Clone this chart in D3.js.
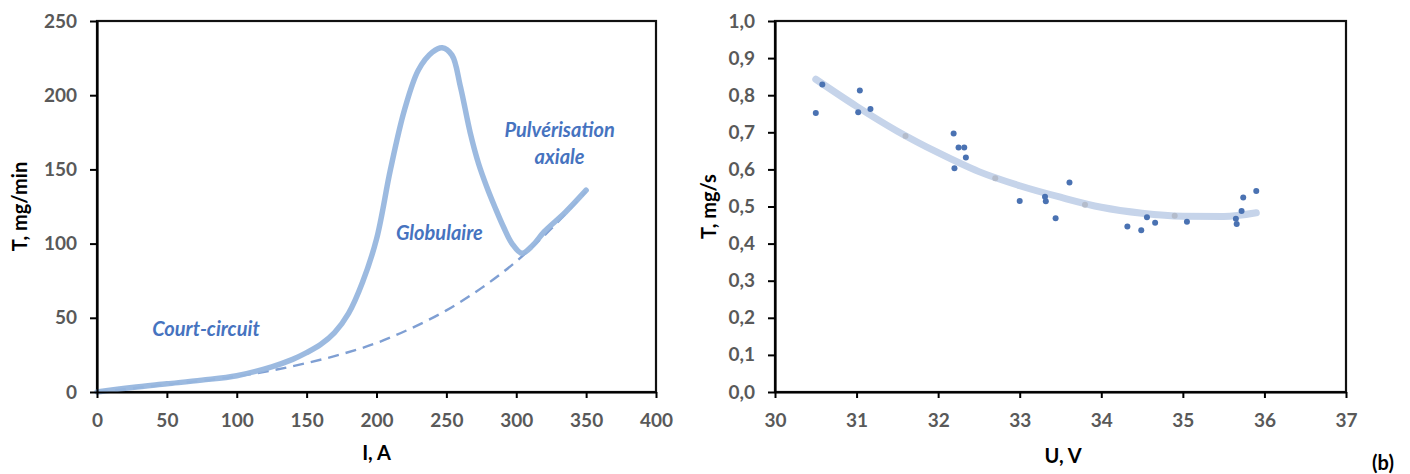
<!DOCTYPE html>
<html>
<head>
<meta charset="utf-8">
<script src="https://cdn.jsdelivr.net/npm/d3@7/dist/d3.min.js"></script>
<style>
  html, body { margin: 0; padding: 0; background: #fff; }
  svg { display: block; }
  .tick text { font-family: Lato, "Open Sans", sans-serif; font-weight: 700; font-size: 19px; fill: #595959; }
  .title { font-family: Lato, "Open Sans", sans-serif; font-weight: 700; font-size: 20px; fill: #000; }
  .region { font-family: Lato, "Open Sans", sans-serif; font-weight: 700; font-style: italic; font-size: 20px; fill: #4673bf; }
</style>
</head>
<body>
<svg id="chart" width="1410" height="474"></svg>
<script>
// ---------- Data (left chart: T vs I) ----------
const solidI = [0, 25, 50, 75, 100, 125, 140, 150, 160, 170, 180, 190, 200, 210, 220, 230, 240, 247, 254, 260, 267, 273, 279, 285, 291, 297, 304, 312, 320, 335, 350];
const solidT = [0, 3, 5.5, 8, 11, 17, 22, 26.5, 32, 40, 53, 74, 103, 150, 190, 217, 229, 232, 227, 206, 175, 154, 138, 124, 111, 100, 93.5, 99, 108, 121, 136];
const dashI = [0, 25, 50, 75, 100, 125, 150, 175, 200, 225, 250, 275, 300, 325, 350];
const dashT = [0, 2.5, 5, 7.5, 10.5, 14.5, 19.5, 25.5, 33, 43, 55, 70, 88, 110, 135];
const leftXTicks = [0, 50, 100, 150, 200, 250, 300, 350, 400];
const leftYTicks = [0, 50, 100, 150, 200, 250];
const regionLabels = ["Court-circuit", "Globulaire", "Pulvérisation", "axiale"];
const regionI = [78, 245, 331, 331];
const regionT = [43, 108, 177, 159];

// ---------- Data (right chart: T vs U) ----------
const scatterU = [30.50, 30.58, 31.04, 31.02, 31.17, 32.19, 32.25, 32.32, 32.34, 32.20, 33.00, 33.31, 33.32, 33.61, 33.44, 34.32, 34.49, 34.56, 34.66, 35.05, 35.65, 35.66, 35.72, 35.74, 35.90];
const scatterT = [0.752, 0.829, 0.813, 0.754, 0.763, 0.697, 0.659, 0.659, 0.632, 0.603, 0.515, 0.526, 0.514, 0.565, 0.468, 0.446, 0.436, 0.471, 0.456, 0.459, 0.467, 0.453, 0.488, 0.524, 0.542];
const meanU = [31.6, 32.7, 33.8, 34.9];
const meanT = [0.690, 0.576, 0.505, 0.475];
const trendU = [30.5, 31.0, 31.5, 32.0, 32.5, 33.0, 33.5, 34.0, 34.5, 35.0, 35.5, 35.9];
const trendT = [0.843, 0.770, 0.703, 0.645, 0.594, 0.556, 0.525, 0.498, 0.482, 0.474, 0.473, 0.483];
const rightXTicks = [30, 31, 32, 33, 34, 35, 36, 37];
const rightYTicks = [0, 0.1, 0.2, 0.3, 0.4, 0.5, 0.6, 0.7, 0.8, 0.9, 1.0];

const svg = d3.select("#chart");

function styleAxis(g) {
  g.select(".domain").attr("stroke", "#000").attr("stroke-width", 2.2);
  g.selectAll(".tick line").attr("stroke", "#000").attr("stroke-width", 2);
}

function frame(x0, x1, y0, y1) {
  svg.append("rect")
    .attr("x", x0).attr("y", y0)
    .attr("width", x1 - x0).attr("height", y1 - y0)
    .attr("fill", "none").attr("stroke", "#111").attr("stroke-width", 2.2);
}

// ---------- Left chart ----------
const L = { x0: 97, x1: 656, y0: 21, y1: 392 };
const xL = d3.scaleLinear().domain([0, 400]).range([L.x0, L.x1]);
const yL = d3.scaleLinear().domain([0, 250]).range([L.y1, L.y0]);

frame(L.x0, L.x1, L.y0, L.y1);

svg.append("path")
  .attr("d", d3.line().curve(d3.curveMonotoneX)(dashI.map((v, i) => [xL(v), yL(dashT[i])])))
  .attr("fill", "none").attr("stroke", "#7f9fd3").attr("stroke-width", 2.4)
  .attr("stroke-dasharray", "11,7");

svg.append("path")
  .attr("d", d3.line().curve(d3.curveCatmullRom.alpha(0.5))(solidI.map((v, i) => [xL(v), yL(solidT[i])])))
  .attr("fill", "none").attr("stroke", "#97b6de").attr("stroke-width", 5.5)
  .attr("stroke-linecap", "round").attr("stroke-linejoin", "round")
  .attr("opacity", 0.95);

svg.append("g").attr("transform", `translate(0,${L.y1})`)
  .call(d3.axisBottom(xL).tickValues(leftXTicks).tickSize(6).tickSizeOuter(0).tickPadding(16).tickFormat(d3.format("d")))
  .call(styleAxis);
svg.append("g").attr("transform", `translate(${L.x0},0)`)
  .call(d3.axisLeft(yL).tickValues(leftYTicks).tickSize(7).tickSizeOuter(0).tickPadding(13).tickFormat(d3.format("d")))
  .call(styleAxis);

regionLabels.forEach((t, i) => {
  svg.append("text").attr("class", "region")
    .attr("x", xL(regionI[i])).attr("y", yL(regionT[i]))
    .attr("text-anchor", "middle").attr("dominant-baseline", "central")
    .text(t);
});

svg.append("text").attr("class", "title")
  .attr("x", (L.x0 + L.x1) / 2).attr("y", 452)
  .attr("text-anchor", "middle").attr("dominant-baseline", "central")
  .text("I, A");
svg.append("text").attr("class", "title")
  .attr("transform", `translate(19,${(L.y0 + L.y1) / 2}) rotate(-90)`)
  .attr("text-anchor", "middle").attr("dominant-baseline", "central")
  .text("T, mg/min");

// ---------- Right chart ----------
const R = { x0: 775, x1: 1346, y0: 21, y1: 392 };
const xR = d3.scaleLinear().domain([30, 37]).range([R.x0, R.x1]);
const yR = d3.scaleLinear().domain([0, 1]).range([R.y1, R.y0]);

frame(R.x0, R.x1, R.y0, R.y1);

svg.append("path")
  .attr("d", d3.line().curve(d3.curveMonotoneX)(trendU.map((v, i) => [xR(v), yR(trendT[i])])))
  .attr("fill", "none").attr("stroke", "#c6d4ea").attr("stroke-width", 7)
  .attr("stroke-linecap", "round");

svg.append("g").selectAll("circle.mean")
  .data(meanU.map((v, i) => [v, meanT[i]]))
  .join("circle")
  .attr("cx", d => xR(d[0])).attr("cy", d => yR(d[1])).attr("r", 3)
  .attr("fill", "#b4bccb");

svg.append("g").selectAll("circle.pt")
  .data(scatterU.map((v, i) => [v, scatterT[i]]))
  .join("circle")
  .attr("cx", d => xR(d[0])).attr("cy", d => yR(d[1])).attr("r", 3)
  .attr("fill", "#4a72b2");

const commaFmt = d => d3.format(".1f")(d).replace(".", ",");
svg.append("g").attr("transform", `translate(0,${R.y1})`)
  .call(d3.axisBottom(xR).tickValues(rightXTicks).tickSize(6).tickSizeOuter(0).tickPadding(16).tickFormat(d3.format("d")))
  .call(styleAxis);
svg.append("g").attr("transform", `translate(${R.x0},0)`)
  .call(d3.axisLeft(yR).tickValues(rightYTicks).tickSize(7).tickSizeOuter(0).tickPadding(13).tickFormat(commaFmt))
  .call(styleAxis);

svg.append("text").attr("class", "title")
  .attr("x", 1063).attr("y", 455)
  .attr("text-anchor", "middle").attr("dominant-baseline", "central")
  .text("U, V");
svg.append("text").attr("class", "title")
  .attr("transform", `translate(708,${(R.y0 + R.y1) / 2}) rotate(-90)`)
  .attr("text-anchor", "middle").attr("dominant-baseline", "central")
  .text("T, mg/s");
svg.append("text").attr("class", "title")
  .attr("x", 1383).attr("y", 462)
  .attr("text-anchor", "middle").attr("dominant-baseline", "central")
  .text("(b)");
</script>
</body>
</html>
